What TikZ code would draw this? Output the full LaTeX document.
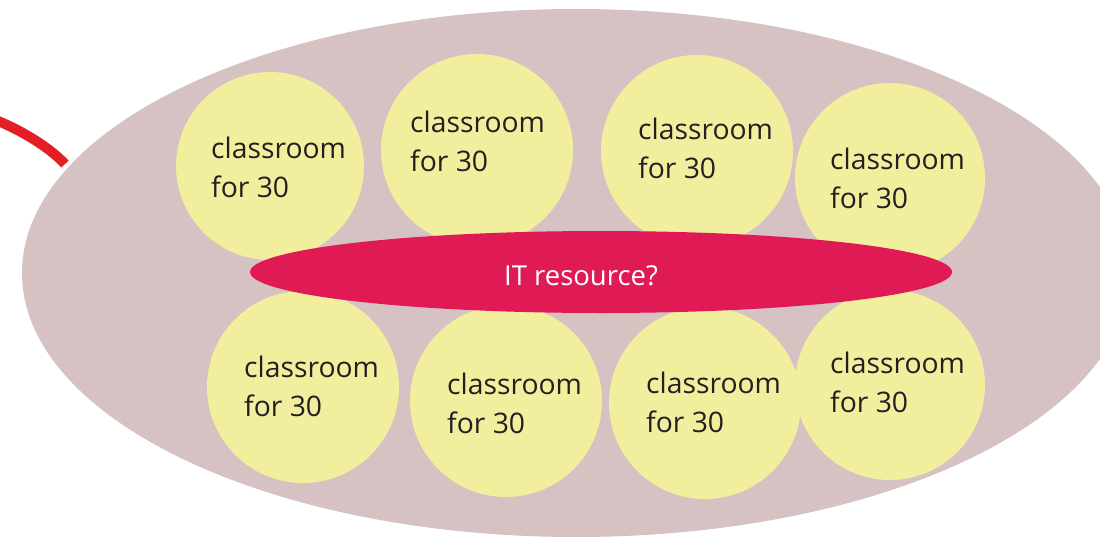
\documentclass[tikz,border=0pt]{standalone}
\usepackage{fontspec}
\setmainfont{Open Sans}
\usetikzlibrary{shapes.geometric}
\definecolor{bigpink}{HTML}{D6C2C2}
\definecolor{roomyellow}{HTML}{F1EF9E}
\definecolor{itred}{HTML}{E01A55}
\definecolor{linered}{HTML}{E31E24}
\definecolor{txt}{HTML}{231F20}
\tikzset{
  room/.style={circle, fill=roomyellow, draw=none, inner sep=0pt, minimum size=#1},
  roomtext/.style={anchor=base west, align=left, inner sep=0pt, text=txt,
    font=\fontsize{28.3}{39}\selectfont},
  redline/.style={draw=linered, line width=10pt, line cap=butt},
}
\begin{document}
\begin{tikzpicture}[x=1pt,y=-1pt]
\useasboundingbox (0,0) rectangle (1100,536);
\node[ellipse, fill=bigpink, draw=none, minimum width=1108pt, minimum height=528pt, inner sep=0pt] (campus) at (576,273) {};
% top row
\node[room=188pt] (c1) at (270,166) {};
\node[room=192pt] (c2) at (477,150) {};
\node[room=192pt] (c3) at (697,151) {};
\node[room=190pt] (c4) at (890,178) {};
% bottom row
\node[room=192pt] (c5) at (303,387) {};
\node[room=192pt] (c6) at (506,401) {};
\node[room=192pt] (c7) at (705,403) {};
\node[room=190pt] (c8) at (890,385) {};
% anchor base = baseline of the last line
\node[roomtext] (t1) at (211,197) {classroom\\for 30};
\node[roomtext] (t2) at (410,171) {classroom\\for 30};
\node[roomtext] (t3) at (638,178) {classroom\\for 30};
\node[roomtext] (t4) at (830,208) {classroom\\for 30};
\node[roomtext] (t5) at (244,416) {classroom\\for 30};
\node[roomtext] (t6) at (447,433) {classroom\\for 30};
\node[roomtext] (t7) at (646,432) {classroom\\for 30};
\node[roomtext] (t8) at (830,412) {classroom\\for 30};
% IT resource
\node[ellipse, fill=itred, draw=none, minimum width=702pt, minimum height=82pt, inner sep=0pt] (it) at (601,272) {};
\node[anchor=base, text=white, inner sep=0pt, font=\fontsize{27.5}{33}\selectfont] (itlabel) at (581,285) {IT resource?};
% red line
\coordinate (rs) at (-2,121);
\coordinate (re) at (65,164);
\draw[redline] (rs) .. controls (20,130) and (48,146) .. (re);
\end{tikzpicture}
\end{document}
